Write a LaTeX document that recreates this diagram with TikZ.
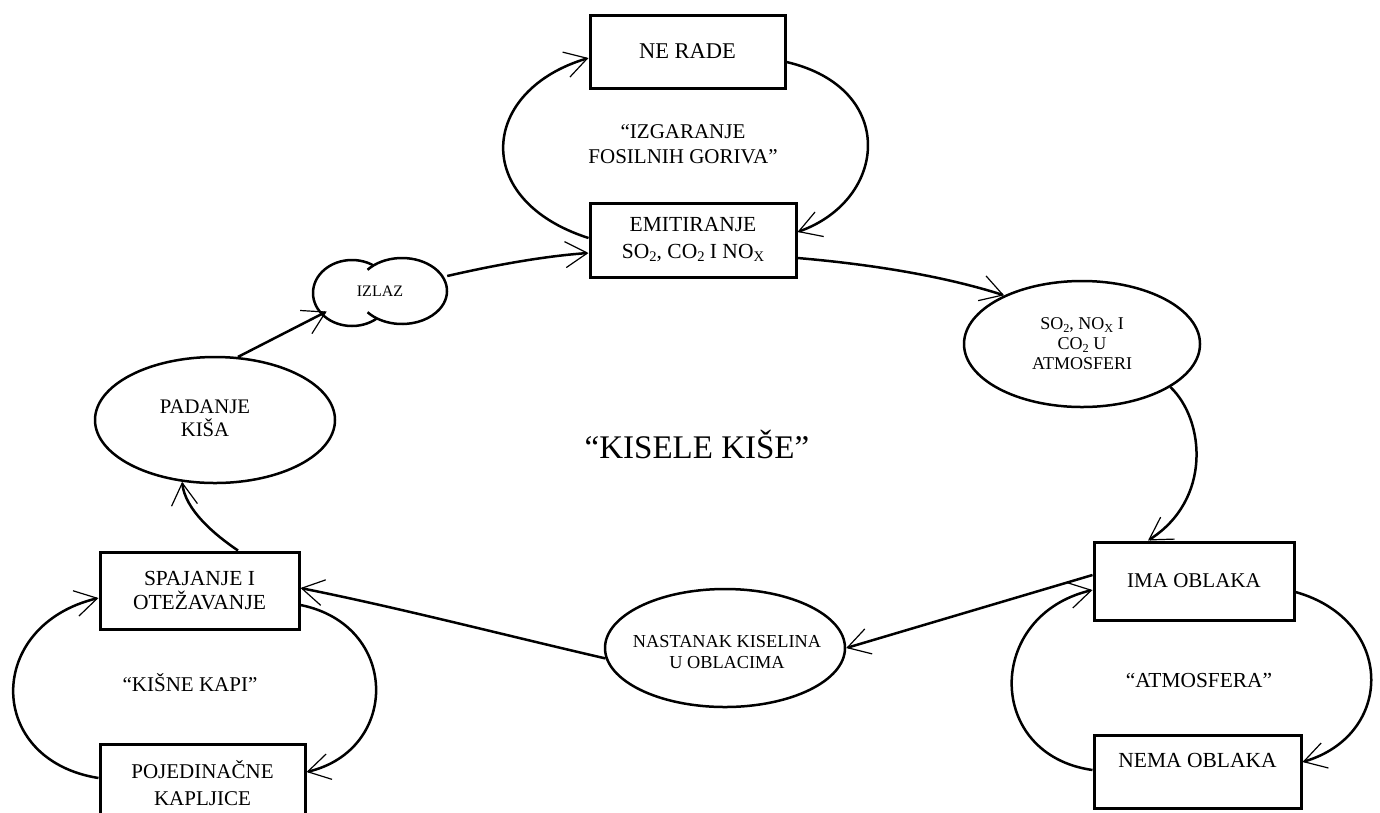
\documentclass[tikz,border=0pt]{standalone}
\usepackage{fontspec}
\setmainfont{Liberation Serif}
\usetikzlibrary{shapes.geometric,arrows.meta}
\newcommand\lsub[1]{\raisebox{-0.3ex}{\scalebox{0.68}{#1}}}
\begin{document}
\begin{tikzpicture}[x=1pt,y=-1pt,
  box/.style={draw, line width=3pt, inner sep=0pt, align=center, font=\fontsize{21pt}{25pt}\selectfont},
  oval/.style={draw, ellipse, line width=2.5pt, inner sep=0pt, align=center},
  lbl/.style={align=center, inner sep=0pt, font=\fontsize{21pt}{25pt}\selectfont},
  conn/.style={line width=2.5pt, -{Straight Barb[length=22pt,width=26pt,line width=1.2pt]}},
  cloudline/.style={line width=2.5pt},
]
\useasboundingbox (0,0) rectangle (1380,812);

% boxes
\node[box, minimum width=195pt, minimum height=73pt, font=\fontsize{22.5pt}{25pt}\selectfont] (nerade) at (687.5,51.5) {NE RADE};
\node[box, minimum width=206pt, minimum height=74pt, font=\fontsize{21.5pt}{27pt}\selectfont] (emit) at (693,240)
  {EMITIRANJE\\SO\lsub{2}, CO\lsub{2} I NO\lsub{X}};
\node[box, minimum width=200pt, minimum height=78pt] (ima) at (1194,581) {IMA OBLAKA};
\node[box, minimum width=207pt, minimum height=73pt] (nema) at (1197.5,771.5) {};
\node[lbl, font=\fontsize{21.5pt}{25pt}\selectfont] (nematxt) at ([yshift=11pt]nema.center) {NEMA OBLAKA};
\node[box, minimum width=199pt, minimum height=77pt, font=\fontsize{21.5pt}{24pt}\selectfont] (spaj) at (199.5,590.5) {SPAJANJE I\\OTEŽAVANJE};
\node[box, minimum width=205pt, minimum height=78pt, font=\fontsize{21pt}{27pt}\selectfont] (poj) at (202.5,783) {POJEDINAČNE\\KAPLJICE};

% ellipses
\node[oval, minimum width=236pt, minimum height=126pt, font=\fontsize{18pt}{20pt}\selectfont] (so2) at (1082,344)
  {SO\lsub{2}, NO\lsub{X} I\\CO\lsub{2} U\\ATMOSFERI};
\node[oval, minimum width=240pt, minimum height=118pt] (nast) at (725,648) {};
\node[lbl, font=\fontsize{18.3pt}{21pt}\selectfont] (nasttxt) at (727,652.5) {NASTANAK KISELINA\\U OBLACIMA};
\node[oval, minimum width=240pt, minimum height=126pt] (pad) at (215,420) {};
\node[lbl, font=\fontsize{20.7pt}{23pt}\selectfont] (padtxt) at (205,418.5) {PADANJE\\KIŠA};

% cloud IZLAZ
\draw[cloudline, fill=white] (352,293) ellipse [x radius=39pt, y radius=33pt];
\fill[white] (402,291) ellipse [x radius=45pt, y radius=33pt];
\draw[cloudline] (402,291) ++(140:45pt and 33pt) arc [start angle=140, end angle=-140, x radius=45pt, y radius=33pt];
\node[ellipse, minimum width=134pt, minimum height=67pt, inner sep=0pt, font=\fontsize{16pt}{18pt}\selectfont] (izlaz) at (380,291) {IZLAZ};

% free labels
\node[lbl] (izg) at (683,144.5) {“IZGARANJE\\FOSILNIH GORIVA”};
\node[lbl, font=\fontsize{33pt}{38pt}\selectfont] (kis) at (697,444) {“KISELE KIŠE”};
\node[lbl, font=\fontsize{21.4pt}{25pt}\selectfont] (atm) at (1199,680) {“ATMOSFERA”};
\node[lbl] (kap) at (190,683) {“KIŠNE KAPI”};

% connectors
\draw[conn] ([yshift=2pt]emit.west) .. controls (470,200) and (480,90) .. ([yshift=-6.5pt]nerade.west);
\draw[conn] ([yshift=-10.5pt]nerade.east) .. controls (898,88) and (888,200) .. ([yshift=8pt]emit.east);
\draw[conn] ([yshift=15pt]izlaz.east) .. controls (495,265) and (545,256) .. ([yshift=-13pt]emit.west);
\draw[conn] ([yshift=-18pt]emit.east) .. controls (880,265) and (950,278) .. (so2.148);
\draw[conn] (so2.-26) .. controls (1205,420) and (1212,500) .. ([xshift=-46pt]ima.north);
\draw[conn] ([yshift=-11pt]ima.east) .. controls (1395,620) and (1395,735) .. ([yshift=9.5pt]nema.east);
\draw[conn] ([yshift=1.5pt]nema.west) .. controls (985,755) and (985,615) .. ([yshift=-9pt]ima.west);
\draw[conn] ([yshift=6pt]ima.west) -- (nast.east);
\draw[conn] (nast.185) .. controls (500,634) and (400,608) .. ([yshift=2.5pt]spaj.east);
\draw[conn] ([yshift=-14.5pt]spaj.east) .. controls (400,625) and (400,750) .. ([yshift=11pt]poj.east);
\draw[conn] ([yshift=5pt]poj.west) .. controls (-15,760) and (-15,625) .. ([yshift=-7.5pt]spaj.west);
\draw[conn] ([xshift=38.5pt]spaj.north) .. controls (215,535) and (185,510) .. (pad.-118);
\draw[conn] (pad.70) -- (izlaz.201);
\end{tikzpicture}
\end{document}
